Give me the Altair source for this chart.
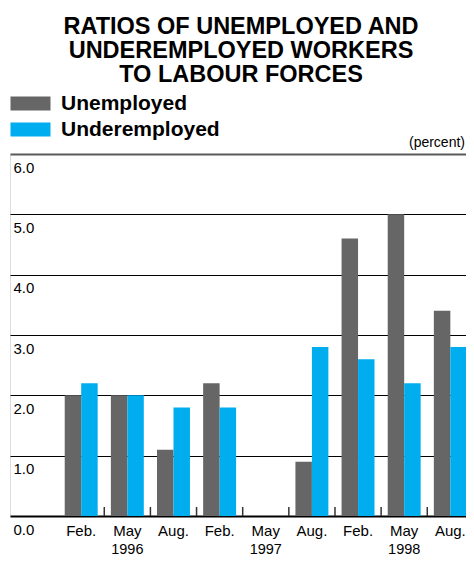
import altair as alt
import pandas as pd

# ---- data ----
months = ["Feb.", "May", "Aug.", "Feb.", "May", "Aug.", "Feb.", "May", "Aug."]
years = ["1996", "1996", "1996", "1997", "1997", "1997", "1998", "1998", "1998"]
unemployed = [2.0, 2.0, 1.1, 2.2, None, 0.9, 4.6, 5.0, 3.4]
underemployed = [2.2, 2.0, 1.8, 1.8, None, 2.8, 2.6, 2.2, 2.8]
series_names = ["Unemployed", "Underemployed"]
series_colors = ["#666666", "#00AEEF"]
year_labels = ["1996", "1997", "1998"]
y_ticks = [0, 1, 2, 3, 4, 5, 6]

periods = [f"{m} {y}" for m, y in zip(months, years)]

rows = []
for p, u, ue in zip(periods, unemployed, underemployed):
    if u is not None:
        rows.append({"period": p, "series": series_names[0], "value": u})
    if ue is not None:
        rows.append({"period": p, "series": series_names[1], "value": ue})
df = pd.DataFrame(rows)

year_df = pd.DataFrame({"period": [f"May {y}" for y in year_labels], "year": year_labels})
tick_df = pd.DataFrame({"period": periods[1:]})
unit_df = pd.DataFrame({"unit": ["(percent)"]})

FONT = "Liberation Sans"
W, H = 456, 362

xscale = alt.Scale(domain=periods, range=[0, 463.4], paddingInner=0,
                   paddingOuter=0.5216, align=1)

bars = alt.Chart(df).mark_bar().encode(
    x=alt.X("period:N", scale=xscale, sort=periods,
            axis=alt.Axis(labelExpr="split(datum.value, ' ')[0]", ticks=False,
                          domain=False, grid=False, title=None, labelAngle=0,
                          labelFont=FONT, labelFontSize=15, labelColor="black",
                          labelPadding=7, labelOverlap=False)),
    xOffset=alt.XOffset("series:N", sort=series_names,
                        scale=alt.Scale(domain=series_names, paddingInner=0, paddingOuter=0.4)),
    y=alt.Y("value:Q", scale=alt.Scale(domain=[0, 6], nice=False),
            axis=alt.Axis(values=y_ticks, format=".1f", title=None, ticks=False, tickSize=0,
                          domain=False, grid=True,
                          gridColor={"condition": {"test": "datum.value === 6", "value": "#5a5a5a"},
                                     "value": "#000000"},
                          gridWidth={"condition": {"test": "datum.value === 6 || datum.value === 0", "value": 2},
                                     "value": 1},
                          gridOpacity=1,
                          labelAlign="left", labelPadding=-3, labelBaseline="alphabetic",
                          labelOffset=18, labelFont=FONT, labelFontSize=15,
                          labelColor="black")),
    color=alt.Color("series:N", sort=series_names,
                    scale=alt.Scale(domain=series_names, range=series_colors),
                    legend=alt.Legend(orient="none", legendX=10, legendY=-61, title=None,
                                      symbolType="M-2,-0.7H2V0.7H-2Z", symbolSize=400,
                                      symbolStrokeWidth=0, labelFont=FONT, labelFontSize=21,
                                      labelFontWeight="bold", labelColor="black",
                                      labelOffset=20, rowPadding=4, padding=0)),
)

ticks = alt.Chart(tick_df).mark_rule(color="#333333", strokeWidth=1.5).encode(
    x=alt.X("period:N", scale=xscale, sort=periods, bandPosition=0),
    y=alt.value(H - 9),
    y2=alt.value(H),
)

year_text = alt.Chart(year_df).mark_text(font=FONT, fontSize=14.5, baseline="alphabetic",
                                         align="center", color="black").encode(
    x=alt.X("period:N", scale=xscale, sort=periods),
    y=alt.value(H + 37.5),
    text="year:N",
)

percent = alt.Chart(unit_df).mark_text(font=FONT, fontSize=14, baseline="alphabetic",
                                       align="right", color="black").encode(
    x=alt.value(W - 1),
    y=alt.value(-7),
    text="unit:N",
)

chart = alt.layer(bars, ticks, year_text, percent).properties(
    width=W, height=H,
    autosize=alt.AutoSizeParams(type="none"),
    padding={"left": 2, "top": 146, "right": 0, "bottom": 41},
    title=alt.TitleParams(
        ["RATIOS OF UNEMPLOYED AND", "UNDEREMPLOYED WORKERS", "TO LABOUR FORCES"],
        font=FONT, fontSize=23.5, fontWeight="bold", color="black", anchor="middle",
        lineHeight=24, frame="group", offset=7, dx=3,
    ),
).configure_view(fill="#C6E9F8", stroke=None).configure(background="white")

chart.save("out.html", embed_options={"renderer": "svg", "actions": False})
